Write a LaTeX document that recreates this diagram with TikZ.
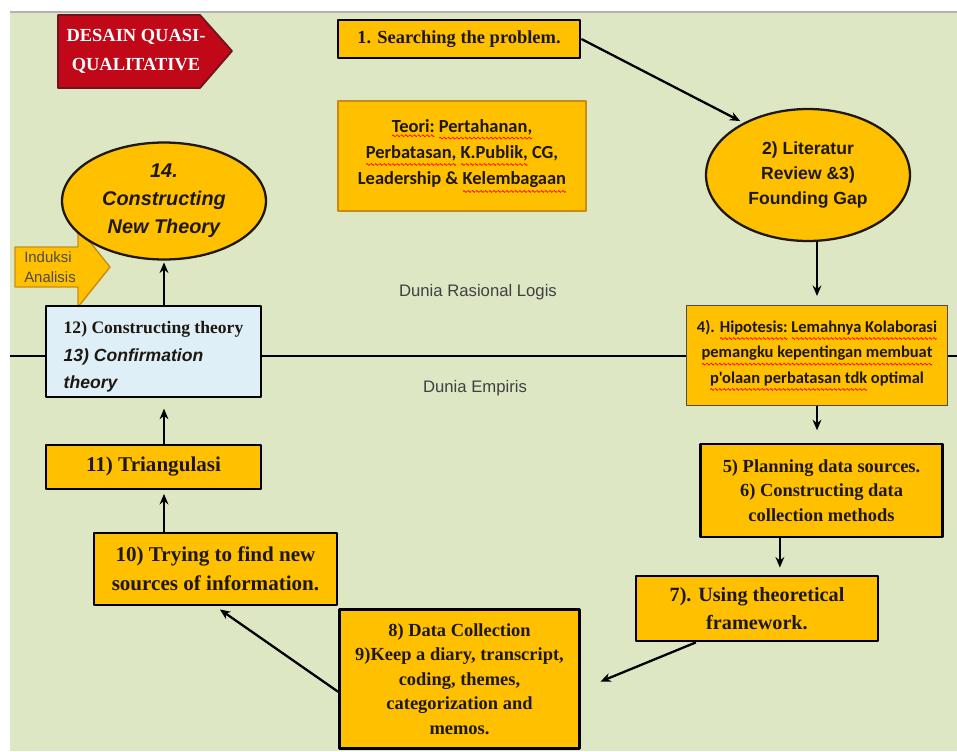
\documentclass[tikz,border=0pt]{standalone}
\usepackage{fontspec}
\setmainfont{Liberation Serif}
\newfontfamily\arialf{Liberation Sans}
\newfontfamily\calib{Carlito}
\usetikzlibrary{arrows.meta,shapes.geometric}
\definecolor{bgcol}{RGB}{221,231,196}
\definecolor{gold}{RGB}{255,192,0}
\definecolor{goldline}{RGB}{200,140,20}
\definecolor{redfill}{RGB}{192,8,24}
\definecolor{redline}{RGB}{110,20,30}
\definecolor{bluefill}{RGB}{222,239,248}
\definecolor{inkcol}{RGB}{30,24,16}
% red spell-check wave under a word
\newcommand\wavepiece{\tikz\draw[red, line width=0.4pt] (0pt,0pt) sin (0.5pt,0.55pt) cos (1pt,0pt) sin (1.5pt,-0.55pt) cos (2pt,0pt);}
\newcommand\squig[1]{\setbox2\hbox{\wavepiece}\setbox0\hbox{#1}\vtop{\copy0\nointerlineskip\kern1.2pt\hbox to \wd0{\xleaders\copy2\hfill}}}
\tikzset{
  stepbox/.style={draw=black, line width=1.6pt, fill=gold, align=center, inner sep=2pt, text=inkcol,
    font=\bfseries\fontsize{10.5}{14}\selectfont},
  thinbox/.style={draw=goldline, line width=0.8pt, fill=gold, align=center, inner sep=2pt, text=inkcol,
    font=\calib\bfseries\fontsize{10.5}{15}\selectfont},
  oval/.style={ellipse, draw=inkcol, line width=1.3pt, fill=gold, align=center, inner sep=0pt, text=inkcol},
  arr/.style={->, line width=1.3pt, >={Stealth[length=6pt,width=5pt]}},
  world/.style={font=\arialf\fontsize{9.5}{12}\selectfont, text=black!75}
}
\begin{document}
\begin{tikzpicture}[x=0.02cm, y=-0.02cm, line join=round]
\useasboundingbox (0,0) rectangle (957,751);
\fill[bgcol] (10,12) rectangle (957,751);
\draw[black!30, line width=0.8pt] (10,12) -- (957,12);
% dividing line between the two worlds
\draw[line width=1.3pt] (10,356) -- (957,356);
\node[world] (rasional) at (478,292) {Dunia Rasional Logis};
\node[world] (empiris) at (475,388) {Dunia Empiris};

% title tag
\fill[redfill, draw=redline, line width=1pt] (58,15) -- (200,15) -- (232,51) -- (200,88) -- (58,88) -- cycle;
\node[text=white, align=center, font=\bfseries\fontsize{10.5}{16.5}\selectfont] (desain) at (136,51) {DESAIN QUASI-\\QUALITATIVE};

% induction arrow
\fill[gold, draw=goldline, line width=0.8pt] (15,247) -- (78,247) -- (78,227) -- (110,267) -- (78,307) -- (78,287) -- (15,287) -- cycle;
\node[align=left, text=black!70, font=\arialf\fontsize{8.5}{11}\selectfont] (induksi) at (50,267) {Induksi\\Analisis};

% rational world
\node[stepbox, minimum width=4.84cm, minimum height=0.76cm] (search) at (459,39) {1. Searching the problem.};
\node[thinbox, minimum width=4.96cm, minimum height=2.2cm] (teori) at (462,156)
  {\squig{Teori:} \squig{Pertahanan,}\\ \squig{Perbatasan,} \squig{K.Publik,} CG,\\ Leadership \& \squig{Kelembagaan}};
\node[oval, minimum width=4.08cm, minimum height=2.64cm, font=\arialf\bfseries\fontsize{10}{14.5}\selectfont] (lit) at (808,175)
  {2) Literatur\\Review \&3)\\Founding Gap};
\node[oval, minimum width=4.08cm, minimum height=2.34cm, font=\arialf\bfseries\itshape\fontsize{11.3}{16}\selectfont] (newtheory) at (164,201)
  {14.\\Constructing\\New Theory};

% boxes on the line
\node[draw=black, line width=1.3pt, fill=bluefill, minimum width=4.3cm, minimum height=1.82cm, align=left, text=inkcol,
  inner ysep=1pt, font=\bfseries\fontsize{10}{15.5}\selectfont] (confirm) at (153.5,351.5)
  {\rule{0pt}{13pt}12) Constructing theory\\ {\arialf\itshape 13) Confirmation}\\ {\arialf\itshape theory}};
\node[thinbox, draw=black!70, minimum width=5.22cm, minimum height=2.0cm, font=\calib\bfseries\fontsize{9.4}{14.5}\selectfont] (hipotesis) at (817,355.5)
  {4). \squig{Hipotesis:} \squig{Lemahnya Kolaborasi}\\ \squig{pemangku kepentingan membuat}\\ \squig{p'olaan perbatasan tdk} optimal};

% empirical world
\node[stepbox, minimum width=4.3cm, minimum height=0.88cm, font=\bfseries\fontsize{12}{15}\selectfont] (triangulasi) at (153.5,467) {11) Triangulasi};
\node[stepbox, minimum width=4.86cm, minimum height=1.44cm, font=\bfseries\fontsize{12}{16.5}\selectfont] (trying) at (215.5,569)
  {10) Trying to find new\\sources of information.};
\node[stepbox, minimum width=4.84cm, minimum height=1.86cm] (planning) at (821.5,490.5)
  {5) Planning data sources.\\6) Constructing data\\collection methods};
\node[stepbox, minimum width=4.84cm, minimum height=1.3cm, font=\bfseries\fontsize{11.5}{16}\selectfont] (using) at (757,608.5)
  {7). Using theoretical\\framework.};
\node[stepbox, minimum width=4.8cm, minimum height=2.78cm] (datacoll) at (459.5,679)
  {8) Data Collection\\9)Keep a diary, transcript,\\coding, themes,\\categorization and\\memos.};

% connectors
\draw[arr, shorten >=2pt] (search.east) -- (lit.141);
\draw[arr, shorten >=5pt] (hipotesis.north |- lit.south) -- (hipotesis.north);
\draw[arr, shorten >=7pt] (hipotesis.south) -- (hipotesis.south |- planning.north);
\draw[arr, shorten >=4pt] (planning.229) -- (planning.229 |- using.north);
\draw[arr, shorten >=12pt] (using.209) -- (datacoll.-5);
\draw[arr, shorten >=3pt] (datacoll.186) -- (trying.south);
\draw[arr, shorten >=2pt] (newtheory.south |- trying.north) -- (newtheory.south |- triangulasi.south);
\draw[arr, shorten >=6pt] (newtheory.south |- triangulasi.north) -- (newtheory.south |- confirm.south);
\draw[arr, shorten >=1pt] (newtheory.south |- confirm.north) -- (newtheory.south);
\end{tikzpicture}
\end{document}
